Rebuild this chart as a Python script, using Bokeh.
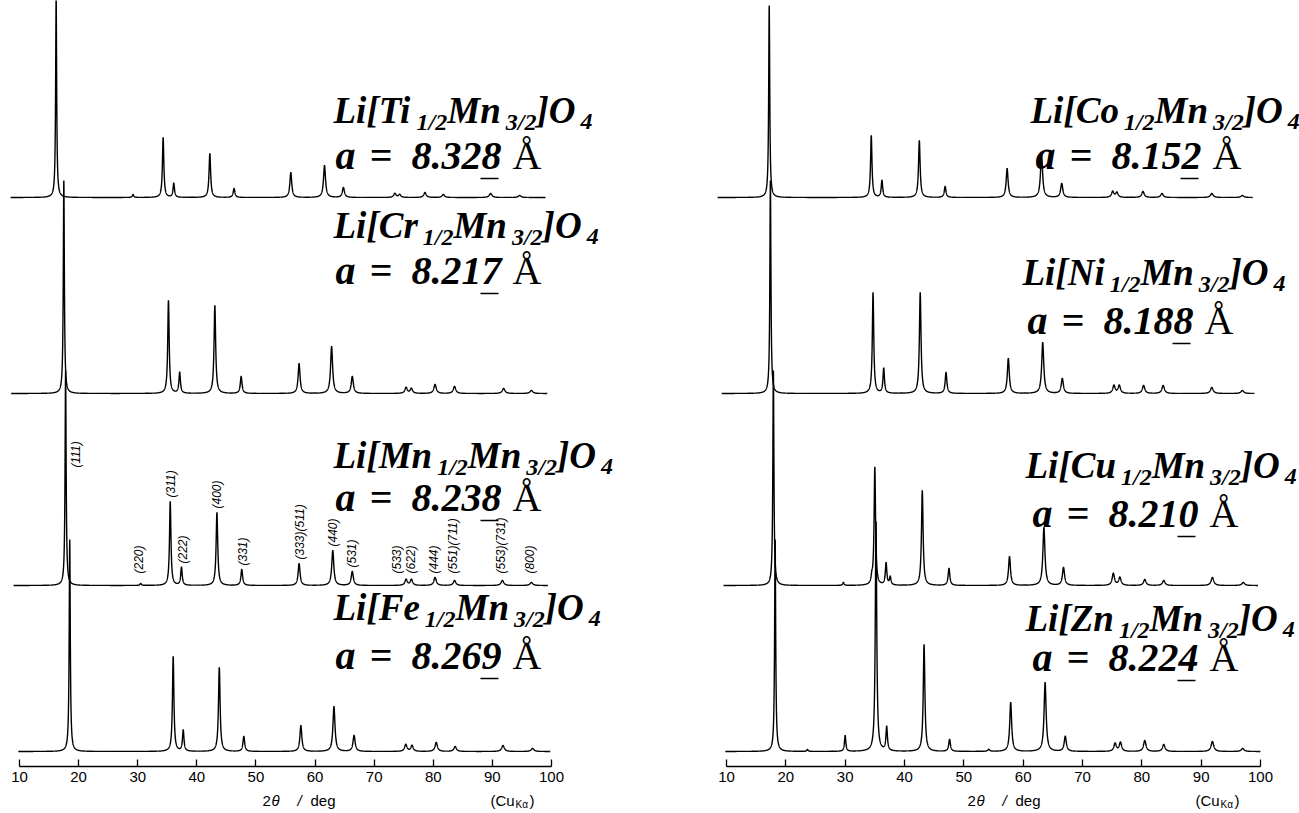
import numpy as np
from bokeh.plotting import figure
from bokeh.models import Range1d, LinearAxis, FixedTicker, Label, ColumnDataSource
from bokeh.core.properties import value
from bokeh.layouts import row, column
from bokeh.embed import file_html
from bokeh.resources import INLINE

# ---------------- data ----------------
# peak positions (2theta / deg) and peak heights (arbitrary units)
ti_pos = [16.2, 29.2, 34.3, 36.1, 42.2, 46.3, 55.9, 61.6, 64.8, 73.5, 74.3, 78.6, 81.7, 89.7, 94.6]
ti_int = [200, 3, 60, 14, 44, 9, 25, 32, 10, 4, 3, 5, 3, 4, 2]
cr_pos = [17.5, 35.2, 37.1, 43.05, 47.5, 57.3, 62.8, 66.3, 75.4, 76.3, 80.3, 83.6, 91.9, 96.6]
cr_int = [213, 93, 21, 88, 17, 30, 47, 17, 6, 5, 9, 7, 5, 3]
mn_pos = [17.8, 30.5, 35.5, 37.4, 43.4, 47.6, 57.3, 63.0, 66.3, 75.4, 76.3, 80.3, 83.6, 91.7, 96.6]
mn_int = [215, 2, 84, 18, 73, 16, 22, 35, 14, 6, 6, 8, 5, 5, 3]
fe_pos = [18.5, 36.0, 37.7, 43.8, 47.95, 57.6, 63.2, 66.6, 75.35, 76.4, 80.5, 83.7, 91.8, 96.8]
fe_int = [212, 95, 21, 84, 15, 26, 45, 16, 7, 6, 9, 5, 6, 3]

co_pos = [17.2, 34.4, 36.2, 42.5, 46.85, 57.3, 63.1, 66.5, 75.1, 75.8, 80.2, 83.4, 91.8, 96.95]
co_int = [192, 62, 17, 57, 11, 29, 44, 14, 6, 5, 6, 4, 4, 2]
ni_pos = [17.4, 34.7, 36.5, 42.65, 47.0, 57.5, 63.3, 66.6, 75.3, 76.2, 80.3, 83.6, 91.8, 96.95]
ni_int = [213, 101, 25, 101, 21, 35, 51, 15, 8, 8, 8, 8, 6, 3]
cu_pos = [17.9, 29.7, 34.5, 35.0, 36.9, 37.6, 43.0, 47.5, 57.7, 63.5, 66.8, 75.2, 76.3, 80.5, 83.7, 91.9, 97.1]
cu_int = [215, 3, 6, 118, 22, 8, 95, 17, 29, 58, 18, 12, 8, 6, 5, 8, 3]
zn_pos = [18.2, 23.65, 30.0, 35.2, 37.0, 43.3, 47.6, 54.2, 57.9, 63.7, 67.1, 75.5, 76.4, 80.5, 83.7, 91.9, 97.0]
zn_int = [212, 2, 16, 230, 24, 107, 12, 2, 49, 69, 15, 8, 9, 11, 7, 10, 3]

# scan ranges (2theta start, end) of each trace
left_span = [(8.5, 99.0), (8.6, 99.3), (9.0, 99.4), (9.8, 99.8)]
right_span = [(8.5, 98.7), (9.2, 99.0), (9.5, 99.6), (9.8, 100.0)]

left_metal = ["Ti", "Cr", "Mn", "Fe"]
left_a = ["8.328", "8.217", "8.238", "8.269"]
right_metal = ["Co", "Ni", "Cu", "Zn"]
right_a = ["8.152", "8.188", "8.210", "8.224"]

# Miller indices marked on the Li[Mn1/2Mn3/2]O4 pattern
hkl_text = ["(111)", "(220)", "(311)", "(222)", "(400)", "(331)", "(333)(511)", "(440)",
            "(531)", "(533)", "(622)", "(444)", "(551)(711)", "(553)(731)", "(800)"]
hkl_pos = [19.6, 30.3, 35.6, 37.6, 43.4, 47.8, 57.5, 63.0, 66.3, 73.9, 76.3, 80.2, 83.3, 91.4, 96.4]

tick_vals = [10, 20, 30, 40, 50, 60, 70, 80, 90, 100]

# ---------------- layout constants ----------------
H_MAIN = 790
FRAME_H = 766
STRIP_H = 813 - H_MAIN
LW, RW = 650, 649
L_PX10, L_PPD = 19.0, 5.911
R_PX10, R_PPD = 726.0, 5.933
BASE_PX = [197, 393, 585, 751]          # baseline of each trace, px from top
STACK = [FRAME_H - b for b in BASE_PX]  # vertical offsets in plot units

BI_W = {'L': 611, 'i': 278, '[': 333, ']': 333, 'T': 611, 'C': 667, 'M': 889, 'F': 667,
        'N': 722, 'O': 722, 'Z': 611, 'n': 556, 'r': 389, 'e': 444, 'o': 500, 'u': 556,
        'c': 444, 'a': 500, '=': 570, '.': 250, '/': 278, ' ': 250}


def tw(s, size):
    return sum(BI_W.get(ch, 500) for ch in s) / 1000.0 * size


def profile(pos, inten, span, offset):
    x = np.arange(span[0], span[1], 0.01)
    y = np.full_like(x, float(offset))
    for c, h in zip(pos, inten):
        w = 0.09 + 0.0022 * (c - 10)
        y += h * w * w / ((x - c) ** 2 + w * w)
    return x, y


def make_fig(width, px10, ppd, x_left_px):
    start = 10 + (x_left_px - px10) / ppd
    end = start + width / ppd
    p = figure(width=width, height=H_MAIN, x_range=Range1d(start, end), y_range=Range1d(0, FRAME_H),
               output_backend="svg", toolbar_location=None, x_axis_location=None,
               y_axis_location=None, min_border=0, min_border_bottom=H_MAIN - FRAME_H)
    p.outline_line_color = None
    p.xgrid.visible = False
    p.ygrid.visible = False
    p.background_fill_color = "white"
    p.border_fill_color = "white"
    ax = LinearAxis(ticker=FixedTicker(ticks=tick_vals), bounds=(10, 100),
                    major_tick_in=7, major_tick_out=0, minor_tick_line_color=None,
                    major_label_text_font="Liberation Sans", major_label_text_font_size="15px",
                    major_label_text_color="black", major_label_standoff=5,
                    axis_line_color="black", axis_line_width=1.3,
                    major_tick_line_color="black", major_tick_line_width=1.3)
    p.add_layout(ax, "below")
    return p


def px2x_fn(px10, ppd):
    return lambda px: 10 + (px - px10) / ppd


def py2y(py):
    return FRAME_H - py


def put(p, x, y, text, size, font="Liberation Serif", style="bold italic", align="left"):
    p.add_layout(Label(x=x, y=y, text=text, text_font=font, text_font_style=style,
                       text_font_size=f"{size}px", text_color="black",
                       text_baseline="middle", text_align=align))


MAIN, SUB, SUB_DROP, SUB_GAP = 37, 24, 11, 5
A_SIZE = 40


def block(p, px2x, x_px, c_px, ax_px, ac_px, metal, aval):
    cx = x_px
    pieces = [("Li[" + metal, 0), ("1/2", 1), ("Mn", 0), ("3/2", 1), ("]O", 0), ("4", 1)]
    for txt, sub in pieces:
        if sub:
            cx += SUB_GAP
            put(p, px2x(cx), py2y(c_px + SUB_DROP), txt, SUB)
            cx += tw(txt, SUB)
        else:
            put(p, px2x(cx), py2y(c_px), txt, MAIN)
            cx += tw(txt, MAIN)
    # a = value  Å
    put(p, px2x(ax_px), py2y(ac_px), "a", A_SIZE)
    put(p, px2x(ax_px + 34), py2y(ac_px), "=", A_SIZE)
    dx = ax_px + 76
    put(p, px2x(dx), py2y(ac_px), aval, A_SIZE)
    last0 = dx + tw(aval[:-1], A_SIZE)
    last1 = last0 + tw(aval[-1], A_SIZE)
    put(p, px2x(last1 + 11), py2y(ac_px), "\u00c5", A_SIZE, style="normal")
    p.segment(x0=[px2x(last0 - 1)], y0=[py2y(ac_px + 23)], x1=[px2x(last1 - 3)],
              y1=[py2y(ac_px + 23)], line_color="black", line_width=1.5)


# ---------------- left panel ----------------
pl = make_fig(LW, L_PX10, L_PPD, 0)
lx = px2x_fn(L_PX10, L_PPD)
for (pos, inten), span, off in zip([(ti_pos, ti_int), (cr_pos, cr_int), (mn_pos, mn_int), (fe_pos, fe_int)],
                                   left_span, STACK):
    x, y = profile(pos, inten, span, off)
    pl.line(x, y, line_color="black", line_width=1.4)

left_txt = [(333, 110, 335, 155), (333, 225, 335, 270), (333, 455, 335, 497), (333, 607, 335, 655)]
for (xp, cp, axp, acp), m, a in zip(left_txt, left_metal, left_a):
    block(pl, lx, xp, cp, axp, acp, m, a)

# hkl labels above the Mn trace
mn_off = STACK[2]
lab_bottom = []
for hp in hkl_pos:
    idx = int(np.argmin([abs(hp - c) for c in mn_pos]))
    top = mn_int[idx] if abs(mn_pos[idx] - hp) < 0.8 else 0
    lab_bottom.append(mn_off + max(top, 8) + 4)
lab_bottom[0] = mn_off + 118
hkl_src = ColumnDataSource(dict(x=hkl_pos, y=lab_bottom, t=hkl_text))
pl.text(x="x", y="y", text="t", source=hkl_src, angle=np.pi / 2, text_align="left",
        text_baseline="middle", text_font=value("Liberation Sans"), text_font_style="italic",
        text_font_size="12px", text_color="black")

# ---------------- right panel ----------------
pr = make_fig(RW, R_PX10, R_PPD, LW)
rx = px2x_fn(R_PX10, R_PPD)
for (pos, inten), span, off in zip([(co_pos, co_int), (ni_pos, ni_int), (cu_pos, cu_int), (zn_pos, zn_int)],
                                   right_span, STACK):
    x, y = profile(pos, inten, span, off)
    pr.line(x, y, line_color="black", line_width=1.4)

right_txt = [(1030, 110, 1035, 155), (1022, 272, 1027, 320), (1025, 465, 1032, 513), (1025, 618, 1032, 657)]
for (xp, cp, axp, acp), m, a in zip(right_txt, right_metal, right_a):
    block(pr, rx, xp, cp, axp, acp, m, a)

# ---------------- axis title strip ----------------
ps = figure(width=LW + RW, height=STRIP_H, x_range=Range1d(0, LW + RW), y_range=Range1d(STRIP_H, 0),
            output_backend="svg", toolbar_location=None, x_axis_location=None,
            y_axis_location=None, min_border=0)
ps.outline_line_color = None
ps.xgrid.visible = False
ps.ygrid.visible = False


def sput(x, y, text, size, style="normal"):
    ps.add_layout(Label(x=x, y=y, text=text, text_font="Liberation Sans", text_font_style=style,
                        text_font_size=f"{size}px", text_color="black",
                        text_baseline="middle", text_align="left"))


for x0 in (262, 967):
    yc = 800 - H_MAIN
    sput(x0, yc, "2", 15)
    sput(x0 + 9, yc, "\u03b8", 15, "italic")
    sput(x0 + 35, yc, "/", 15, "italic")
    sput(x0 + 48, yc, "deg", 15)
    sput(x0 + 228, yc, "(Cu", 15)
    sput(x0 + 253, yc + 4, "K\u03b1", 10)
    sput(x0 + 267, yc, ")", 15)

layout = column(row(pl, pr, spacing=0), ps, spacing=0)
open("out.html", "w").write(file_html(layout, INLINE))
